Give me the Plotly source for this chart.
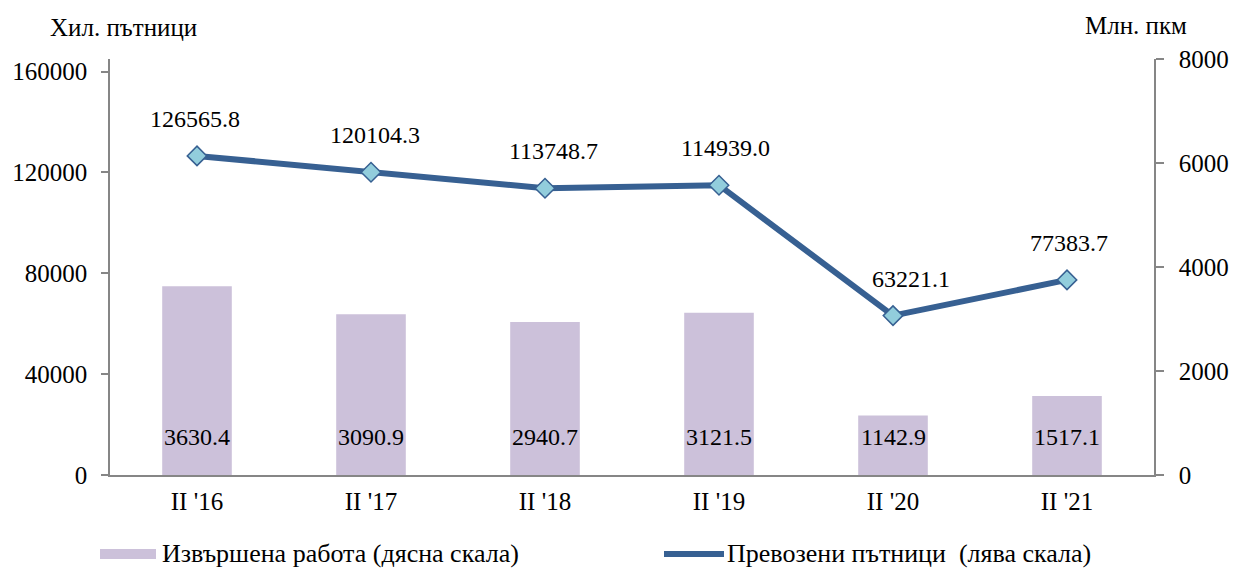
import plotly.graph_objects as go

categories = ["II '16", "II '17", "II '18", "II '19", "II '20", "II '21"]
passengers = [126565.8, 120104.3, 113748.7, 114939.0, 63221.1, 77383.7]
work = [3630.4, 3090.9, 2940.7, 3121.5, 1142.9, 1517.1]
left_ticks = [0, 40000, 80000, 120000, 160000]
right_ticks = [0, 2000, 4000, 6000, 8000]

# label x offsets (px) for line labels, as placed in the reference
line_label_dx = [-2, 4, 8, 6, 18, 2]

FONT = "Liberation Serif"
BAR_COLOR = "#CCC1DA"
LINE_COLOR = "#376092"
MARKER_COLOR = "#92CDDC"
AXIS_COLOR = "#868686"

W, H = 1233, 568
L, R, T, B = 110, 79, 59, 93
pw, ph = W - L - R, H - T - B


def px_to_paper(x, y):
    return (x - L) / pw, (H - B - y) / ph


fig = go.Figure()
fig.add_trace(go.Bar(
    x=categories, y=work, yaxis="y2", width=0.4,
    marker=dict(color=BAR_COLOR, line=dict(width=0)),
    name="Извършена работа (дясна скала)", showlegend=False,
))
fig.add_trace(go.Scatter(
    x=categories, y=passengers, yaxis="y", mode="lines+markers",
    line=dict(color=LINE_COLOR, width=6),
    marker=dict(symbol="diamond", size=15, color=MARKER_COLOR,
                line=dict(color=LINE_COLOR, width=1.5)),
    name="Превозени пътници (лява скала)", showlegend=False,
))

annotations = []
for c, v, dx in zip(categories, passengers, line_label_dx):
    annotations.append(dict(x=c, y=v, xref="x", yref="y", text=f"{v:.1f}",
                            showarrow=False, yanchor="middle", yshift=37, xshift=dx,
                            font=dict(family=FONT, size=24, color="black")))
for c, v in zip(categories, work):
    annotations.append(dict(x=c, y=0, xref="x", yref="y2", text=f"{v:.1f}",
                            showarrow=False, yanchor="middle", yshift=38,
                            font=dict(family=FONT, size=24, color="black")))

ax, ay = px_to_paper(48, 28)
annotations.append(dict(x=ax, y=ay, xref="paper", yref="paper", text="Хил. пътници",
                        showarrow=False, xanchor="left", yanchor="middle",
                        font=dict(family=FONT, size=25, color="black")))
ax, ay = px_to_paper(1083, 25)
annotations.append(dict(x=ax, y=ay, xref="paper", yref="paper", text="Млн. пкм",
                        showarrow=False, xanchor="left", yanchor="middle",
                        font=dict(family=FONT, size=25, color="black")))

# manual legend
shapes = []
x0, y0 = px_to_paper(100, 549)
x1, y1 = px_to_paper(156, 559)
shapes.append(dict(type="rect", xref="paper", yref="paper", x0=x0, x1=x1, y0=y0, y1=y1,
                   fillcolor=BAR_COLOR, line=dict(width=0)))
tx, ty = px_to_paper(160, 553)
annotations.append(dict(x=tx, y=ty, xref="paper", yref="paper", xanchor="left",
                        yanchor="middle", showarrow=False,
                        text="Извършена работа (дясна скала)",
                        font=dict(family=FONT, size=26, color="black")))
lx0, ly = px_to_paper(664, 554)
lx1, _ = px_to_paper(724, 554)
shapes.append(dict(type="line", xref="paper", yref="paper", x0=lx0, x1=lx1, y0=ly, y1=ly,
                   line=dict(color=LINE_COLOR, width=6)))
tx, ty = px_to_paper(725, 553)
annotations.append(dict(x=tx, y=ty, xref="paper", yref="paper", xanchor="left",
                        yanchor="middle", showarrow=False,
                        text="Превозени пътници  (лява скала)",
                        font=dict(family=FONT, size=26, color="black")))

fig.add_trace(go.Scatter(
    x=[(lx0 + lx1) / 2], y=[ly], xaxis="x2", yaxis="y3", mode="markers",
    marker=dict(symbol="diamond", size=11, color=MARKER_COLOR,
                line=dict(color=LINE_COLOR, width=1.2)),
    showlegend=False, hoverinfo="skip", cliponaxis=False,
))

fig.update_layout(
    width=W, height=H,
    margin=dict(l=L, r=R, t=T, b=B, autoexpand=False),
    paper_bgcolor="white", plot_bgcolor="white",
    font=dict(family=FONT, size=25, color="black"),
    xaxis=dict(type="category", showgrid=False, showline=True, linecolor=AXIS_COLOR,
               linewidth=1.5, ticks="", tickfont=dict(size=25), ticklabelstandoff=3,
               range=[-0.5, 5.5], zeroline=False),
    yaxis=dict(range=[0, 165000], tickvals=left_ticks,
               ticktext=[str(t) for t in left_ticks], showgrid=False, showline=True,
               linecolor=AXIS_COLOR, linewidth=1.5, ticks="outside", ticklen=7,
               tickcolor=AXIS_COLOR, tickwidth=1.5, ticklabelstandoff=9,
               zeroline=False, tickfont=dict(size=25)),
    yaxis2=dict(range=[0, 8000], tickvals=right_ticks,
                ticktext=[str(t) for t in right_ticks], overlaying="y", side="right",
                showgrid=False, showline=True, linecolor=AXIS_COLOR, linewidth=1.5,
                ticks="outside", ticklen=8, tickcolor=AXIS_COLOR, tickwidth=1.5,
                ticklabelstandoff=10, zeroline=False, tickfont=dict(size=25)),
    xaxis2=dict(range=[0, 1], domain=[0, 1], visible=False, overlaying="x"),
    yaxis3=dict(range=[0, 1], domain=[0, 1], visible=False, overlaying="y"),
    annotations=annotations, shapes=shapes,
    showlegend=False,
)

fig.write_html("out.html", config={"displayModeBar": False},
               post_script="document.body.style.margin='0';")
